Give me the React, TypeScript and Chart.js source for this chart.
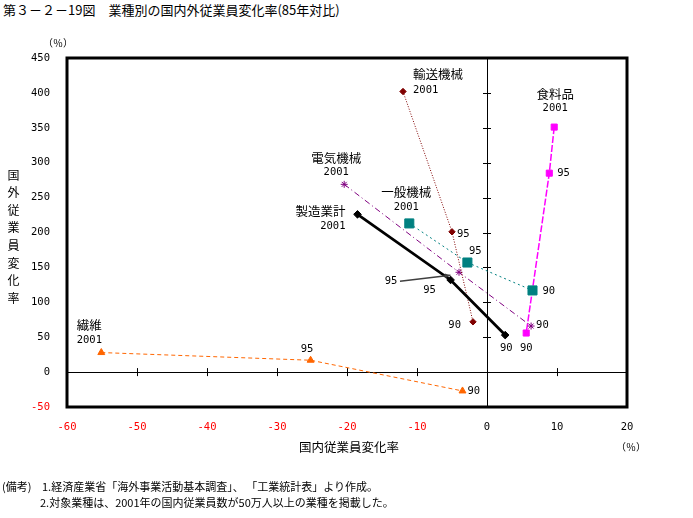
import React, { useEffect, useRef } from 'react';
import { Chart, registerables } from 'chart.js';

Chart.register(...registerables);

// ---- data ----
const pointYears = ['2001', '95', '90'];
const seriesNames = ['製造業計', '輸送機械', '電気機械', '一般機械', '食料品', '繊維'];

const xTickValues = [-60, -50, -40, -30, -20, -10, 0, 10, 20];
const yTickValues = [-50, 0, 50, 100, 150, 200, 250, 300, 350, 400, 450];

// domestic change (x) / overseas change (y), in order 2001, 95, 90
const manufacturingDomestic = [-18.5, -5.2, 2.6];
const manufacturingOverseas = [226, 132, 53];
const transportDomestic = [-12.0, -5.0, -2.0];
const transportOverseas = [402, 201, 72];
const electricalDomestic = [-20.4, -4.0, 6.3];
const electricalOverseas = [269, 143, 66];
const generalDomestic = [-11.1, -2.8, 6.5];
const generalOverseas = [213, 157, 117];
const foodDomestic = [9.6, 8.9, 5.6];
const foodOverseas = [351, 285, 56];
const textileDomestic = [-55.1, -25.2, -3.5];
const textileOverseas = [28, 17, -27];

const domesticSeries = [manufacturingDomestic, transportDomestic, electricalDomestic, generalDomestic, foodDomestic, textileDomestic];
const overseasSeries = [manufacturingOverseas, transportOverseas, electricalOverseas, generalOverseas, foodOverseas, textileOverseas];

// ---- styles ----
const seriesStyles = [
  { color: '#000000', width: 2.8, dash: [] as number[], point: 'rectRot', radius: 3.8 },
  { color: '#800000', width: 1, dash: [1, 1.6], point: 'rectRot', radius: 3.2 },
  { color: '#800080', width: 1, dash: [6, 3, 1, 3], point: 'star', radius: 3.5 },
  { color: '#008080', width: 1, dash: [2, 3], point: 'rect', radius: 6.4 },
  { color: '#FF00FF', width: 1.5, dash: [7, 2], point: 'rect', radius: 4.3 },
  { color: '#FF6600', width: 1, dash: [4, 3], point: 'triangle', radius: 4 },
];

// label placement: series index, point index, kind, pixel offset, alignment
type Ann = { s: number; i: number; kind: 'name' | 'year'; dx: number; dy: number; align: CanvasTextAlign };
const annotations: Ann[] = [
  { s: 0, i: 0, kind: 'name', dx: -12, dy: -3, align: 'right' },
  { s: 0, i: 0, kind: 'year', dx: -12, dy: 12, align: 'right' },
  { s: 0, i: 1, kind: 'year', dx: -21, dy: 10, align: 'center' },
  { s: 0, i: 2, kind: 'year', dx: 1, dy: 13, align: 'center' },
  { s: 1, i: 0, kind: 'name', dx: 10, dy: -17, align: 'left' },
  { s: 1, i: 0, kind: 'year', dx: 10, dy: -1, align: 'left' },
  { s: 1, i: 1, kind: 'year', dx: 5, dy: 2, align: 'left' },
  { s: 1, i: 2, kind: 'year', dx: -12, dy: 3, align: 'right' },
  { s: 2, i: 0, kind: 'name', dx: -8, dy: -26, align: 'center' },
  { s: 2, i: 0, kind: 'year', dx: -8, dy: -12, align: 'center' },
  { s: 2, i: 1, kind: 'year', dx: -68, dy: 9, align: 'center' },
  { s: 2, i: 2, kind: 'year', dx: 5, dy: -1, align: 'left' },
  { s: 3, i: 0, kind: 'name', dx: -3, dy: -31, align: 'center' },
  { s: 3, i: 0, kind: 'year', dx: -3, dy: -16, align: 'center' },
  { s: 3, i: 1, kind: 'year', dx: 1.5, dy: -11.5, align: 'left' },
  { s: 3, i: 2, kind: 'year', dx: 10, dy: 1, align: 'left' },
  { s: 4, i: 0, kind: 'name', dx: 1, dy: -33, align: 'center' },
  { s: 4, i: 0, kind: 'year', dx: 1, dy: -19, align: 'center' },
  { s: 4, i: 1, kind: 'year', dx: 8, dy: 0, align: 'left' },
  { s: 4, i: 2, kind: 'year', dx: 0, dy: 15, align: 'center' },
  { s: 5, i: 0, kind: 'name', dx: -24.6, dy: -27, align: 'left' },
  { s: 5, i: 0, kind: 'year', dx: -24.6, dy: -12, align: 'left' },
  { s: 5, i: 1, kind: 'year', dx: -3.6, dy: -11, align: 'center' },
  { s: 5, i: 2, kind: 'year', dx: 5, dy: 0, align: 'left' },
];
const arrow = { s: 2, i: 1, from: [-59, 9], to: [-8.5, 3] };

const JP = '"Noto Sans CJK JP", "Noto Sans", sans-serif';
const NUM = '"DejaVu Sans Mono", "Liberation Mono", monospace';

const chartDecor = {
  id: 'chartDecor',
  beforeDatasetsDraw(chart: any) {
    const { ctx, chartArea, scales } = chart;
    const x0 = scales.x.getPixelForValue(0);
    const y0 = scales.y.getPixelForValue(0);
    ctx.save();
    ctx.strokeStyle = '#000';
    ctx.lineWidth = 1;
    ctx.beginPath();
    ctx.moveTo(Math.round(x0) + 0.5, chartArea.top);
    ctx.lineTo(Math.round(x0) + 0.5, chartArea.bottom);
    ctx.moveTo(chartArea.left, Math.round(y0) + 0.5);
    ctx.lineTo(chartArea.right, Math.round(y0) + 0.5);
    yTickValues.forEach((v) => {
      if (v === 0 || v === yTickValues[0] || v === yTickValues[yTickValues.length - 1]) return;
      const py = Math.round(scales.y.getPixelForValue(v)) + 0.5;
      ctx.moveTo(x0 - 4, py);
      ctx.lineTo(x0 + 4, py);
    });
    xTickValues.forEach((v) => {
      if (v === 0 || v === xTickValues[0] || v === xTickValues[xTickValues.length - 1]) return;
      const px = Math.round(scales.x.getPixelForValue(v)) + 0.5;
      ctx.moveTo(px, y0 - 4);
      ctx.lineTo(px, y0 + 4);
    });
    ctx.stroke();
    ctx.restore();
  },
  afterDatasetsDraw(chart: any) {
    const { ctx, chartArea, scales } = chart;
    ctx.save();
    // frame
    ctx.strokeStyle = '#000';
    ctx.lineWidth = 3;
    ctx.strokeRect(chartArea.left, chartArea.top, chartArea.right - chartArea.left, chartArea.bottom - chartArea.top);

    // arrow
    {
      const px = scales.x.getPixelForValue(domesticSeries[arrow.s][arrow.i]);
      const py = scales.y.getPixelForValue(overseasSeries[arrow.s][arrow.i]);
      const sx = px + arrow.from[0], sy = py + arrow.from[1];
      const ex = px + arrow.to[0], ey = py + arrow.to[1];
      ctx.strokeStyle = '#404040';
      ctx.fillStyle = '#404040';
      ctx.lineWidth = 1.5;
      ctx.beginPath();
      ctx.moveTo(sx, sy);
      ctx.lineTo(ex, ey);
      ctx.stroke();
      const ang = Math.atan2(ey - sy, ex - sx);
      ctx.beginPath();
      ctx.moveTo(ex, ey);
      ctx.lineTo(ex - 6 * Math.cos(ang - 0.4), ey - 6 * Math.sin(ang - 0.4));
      ctx.lineTo(ex - 6 * Math.cos(ang + 0.4), ey - 6 * Math.sin(ang + 0.4));
      ctx.closePath();
      ctx.fill();
    }

    // point labels
    ctx.fillStyle = '#000';
    ctx.textBaseline = 'middle';
    annotations.forEach((a) => {
      const px = scales.x.getPixelForValue(domesticSeries[a.s][a.i]);
      const py = scales.y.getPixelForValue(overseasSeries[a.s][a.i]);
      const text = a.kind === 'name' ? seriesNames[a.s] : pointYears[a.i];
      ctx.font = a.kind === 'name' ? `12.5px ${JP}` : `10.5px ${NUM}`;
      ctx.textAlign = a.align;
      ctx.fillText(text, px + a.dx, py + a.dy);
    });

    // axis titles
    ctx.font = `12.5px ${JP}`;
    ctx.textAlign = 'center';
    ctx.fillText('国内従業員変化率', 349, chartArea.bottom + 40);
    ctx.font = `10px ${JP}`;
    ctx.fillText('（％）', chartArea.right + 4, chartArea.bottom + 40);
    ctx.fillText('（％）', chartArea.left - 9, chartArea.top - 15);
    ctx.font = `12px ${JP}`;
    const yTitle = '国外従業員変化率';
    for (let k = 0; k < yTitle.length; k++) {
      ctx.fillText(yTitle[k], 13.5, 175 + k * 17.6);
    }
    ctx.restore();
  },
};

export default function App() {
  const ref = useRef<HTMLCanvasElement>(null);
  useEffect(() => {
    const canvas = ref.current;
    if (!canvas) return;
    const datasets = seriesNames.map((name, s) => {
      const st = seriesStyles[s];
      return {
        label: name,
        data: domesticSeries[s].map((x, i) => ({ x, y: overseasSeries[s][i] })),
        showLine: true,
        borderColor: st.color,
        backgroundColor: st.color,
        borderWidth: st.width,
        borderDash: st.dash,
        pointStyle: st.point,
        pointRadius: st.radius,
        pointBackgroundColor: st.color,
        pointBorderColor: st.color,
        pointBorderWidth: 1,
        tension: 0,
        clip: false,
      };
    });
    const tickColor = (c: any) => (c.tick && c.tick.value < 0 ? '#FF0000' : '#000000');
    const chart = new Chart(canvas, {
      type: 'scatter',
      data: { datasets } as any,
      options: {
        responsive: false,
        animation: false,
        layout: { padding: { top: 58, right: 66, bottom: 0, left: 0 } },
        plugins: { legend: { display: false }, tooltip: { enabled: false } },
        scales: {
          x: {
            type: 'linear',
            min: xTickValues[0],
            max: xTickValues[xTickValues.length - 1],
            afterBuildTicks: (s: any) => { s.ticks = xTickValues.map((v) => ({ value: v })); },
            afterFit: (s: any) => { s.height = 111; },
            grid: { display: false, drawTicks: false },
            border: { display: false },
            ticks: {
              padding: 14,
              autoSkip: false,
              maxRotation: 0,
              color: tickColor,
              font: { family: NUM, size: 10.5 },
              callback: (v: any) => String(v),
            },
          },
          y: {
            type: 'linear',
            min: yTickValues[0],
            max: yTickValues[yTickValues.length - 1],
            afterBuildTicks: (s: any) => { s.ticks = yTickValues.map((v) => ({ value: v })); },
            afterFit: (s: any) => { s.width = 67; },
            grid: { display: false, drawTicks: false },
            border: { display: false },
            ticks: {
              padding: 17,
              autoSkip: false,
              color: tickColor,
              font: { family: NUM, size: 10.5 },
              callback: (v: any) => String(v),
            },
          },
        },
      } as any,
      plugins: [chartDecor],
    });
    return () => chart.destroy();
  }, []);

  const noteStyle: React.CSSProperties = { position: 'absolute', fontFamily: JP, fontSize: 11, lineHeight: '13px', color: '#000', whiteSpace: 'nowrap' };
  return (
    <div style={{ position: 'absolute', left: 0, top: 0, width: 693, height: 518, background: '#fff' }}>
      <div style={{ position: 'absolute', left: 3, top: 2, fontFamily: JP, fontSize: 13, lineHeight: '16px', color: '#000', whiteSpace: 'nowrap' }}>
        第３－２－19図　業種別の国内外従業員変化率(85年対比)
      </div>
      <canvas ref={ref} width={693} height={518} style={{ position: 'absolute', left: 0, top: 0, display: 'block' }} />
      <div style={{ ...noteStyle, left: 2, top: 480 }}>(備考)</div>
      <div style={{ ...noteStyle, left: 42, top: 480 }}>1.経済産業省「海外事業活動基本調査」、 「工業統計表」より作成。</div>
      <div style={{ ...noteStyle, left: 40, top: 496 }}>2.対象業種は、2001年の国内従業員数が50万人以上の業種を掲載した。</div>
    </div>
  );
}
